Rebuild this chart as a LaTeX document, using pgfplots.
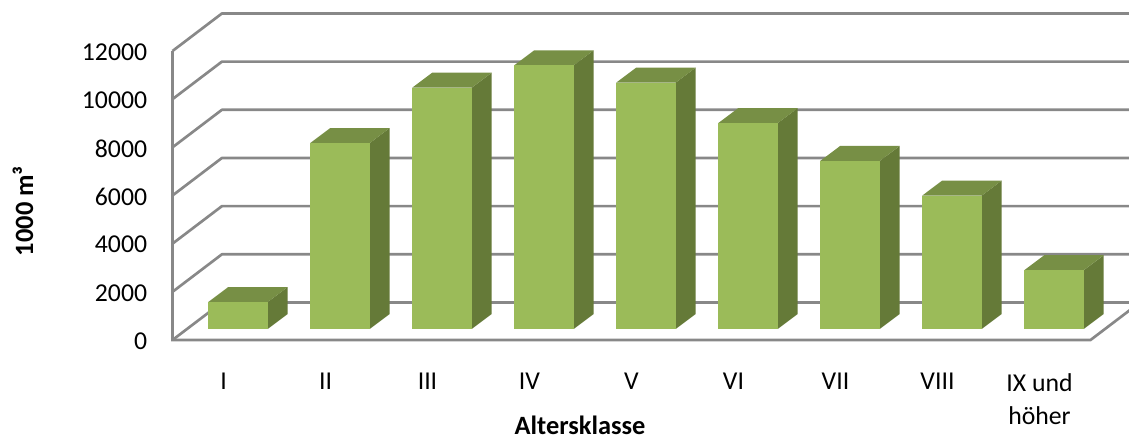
\documentclass[border=0pt]{standalone}
\usepackage{fontspec}
\setmainfont{Carlito}
\usepackage{pgfplots}
\pgfplotsset{compat=1.18}

\definecolor{barfront}{HTML}{9BBB59}
\definecolor{barside}{HTML}{657A38}
\definecolor{bartop}{HTML}{778F45}
\definecolor{wall}{HTML}{888888}

% 1 px of the reference = 0.75pt
% wall depth: 0.485 categories, 1560 units; bar depth: 0.196 categories, 623 units
\newcommand{\gridline}[1]{%
  \pgfmathsetmacro{\yb}{#1+1560}%
  \addplot[wall, line width=2pt, line join=bevel] coordinates {(-0.5,#1) (-0.015,\yb) (8.985,\yb)};
}
\newcommand{\cube}[2]{%
  \pgfmathsetmacro{\xl}{#1+0.142-0.2917}%
  \pgfmathsetmacro{\xr}{#1+0.142+0.2917}%
  \pgfmathsetmacro{\xlb}{\xl+0.196}%
  \pgfmathsetmacro{\xrb}{\xr+0.196}%
  \pgfmathsetmacro{\yt}{#2+457}%
  \pgfmathsetmacro{\ytb}{\yt+623}%
  \addplot[draw=none, fill=barside] coordinates {(\xr,457) (\xrb,1080) (\xrb,\ytb) (\xr,\yt)} --cycle;
  \addplot[draw=none, fill=bartop] coordinates {(\xl,\yt) (\xlb,\ytb) (\xrb,\ytb) (\xr,\yt)} --cycle;
  \addplot[draw=none, fill=barfront] coordinates {(\xl,457) (\xr,457) (\xr,\yt) (\xl,\yt)} --cycle;
}

\begin{document}
\begin{tikzpicture}
\clip[use as bounding box] (0,0) rectangle (846.75pt,330pt);
\begin{axis}[
    at={(129.375pt,75pt)},
    anchor=south west,
    scale only axis,
    width=688.5pt,
    height=216.75pt,
    xmin=-0.5, xmax=8.5,
    ymin=0, ymax=12000,
    clip=false,
    axis line style={draw=none},
    major tick length=0pt,
    scaled y ticks=false,
    xtick={0,1,2,3,4,5,6,7,8},
    xticklabels={I,II,III,IV,V,VI,VII,VIII,{IX und\\höher}},
    ytick={0,2000,4000,6000,8000,10000,12000},
    /pgf/number format/assume math mode=true,
    /pgf/number format/1000 sep={},
    tick label style={font=\fontsize{19.3pt}{24.7pt}\selectfont},
    xticklabel style={align=center, anchor=north, yshift=-21.5pt},
    yticklabel style={anchor=east, xshift=-15.5pt, yshift=-0.8pt},
    xlabel={\textbf{Altersklasse}},
    ylabel={\textbf{1000 m³}},
    label style={font=\fontsize{19.8pt}{22pt}\selectfont},
    xlabel style={at={(axis description cs:0.444,-0.296)}, anchor=center},
    ylabel style={at={(axis description cs:-0.1628,0.446)}, anchor=center},
]
\gridline{0}
\gridline{2000}
\gridline{4000}
\gridline{6000}
\gridline{8000}
\gridline{10000}
\gridline{12000}
\addplot[wall, line width=2pt] coordinates {(-0.5,12000) (-0.5,0) (8.5,0) (8.985,1560)};
\cube{0}{1120}
\cube{1}{7720}
\cube{2}{10020}
\cube{3}{10950}
\cube{4}{10230}
\cube{5}{8550}
\cube{6}{6980}
\cube{7}{5540}
\cube{8}{2440}
\end{axis}
\end{tikzpicture}
\end{document}
